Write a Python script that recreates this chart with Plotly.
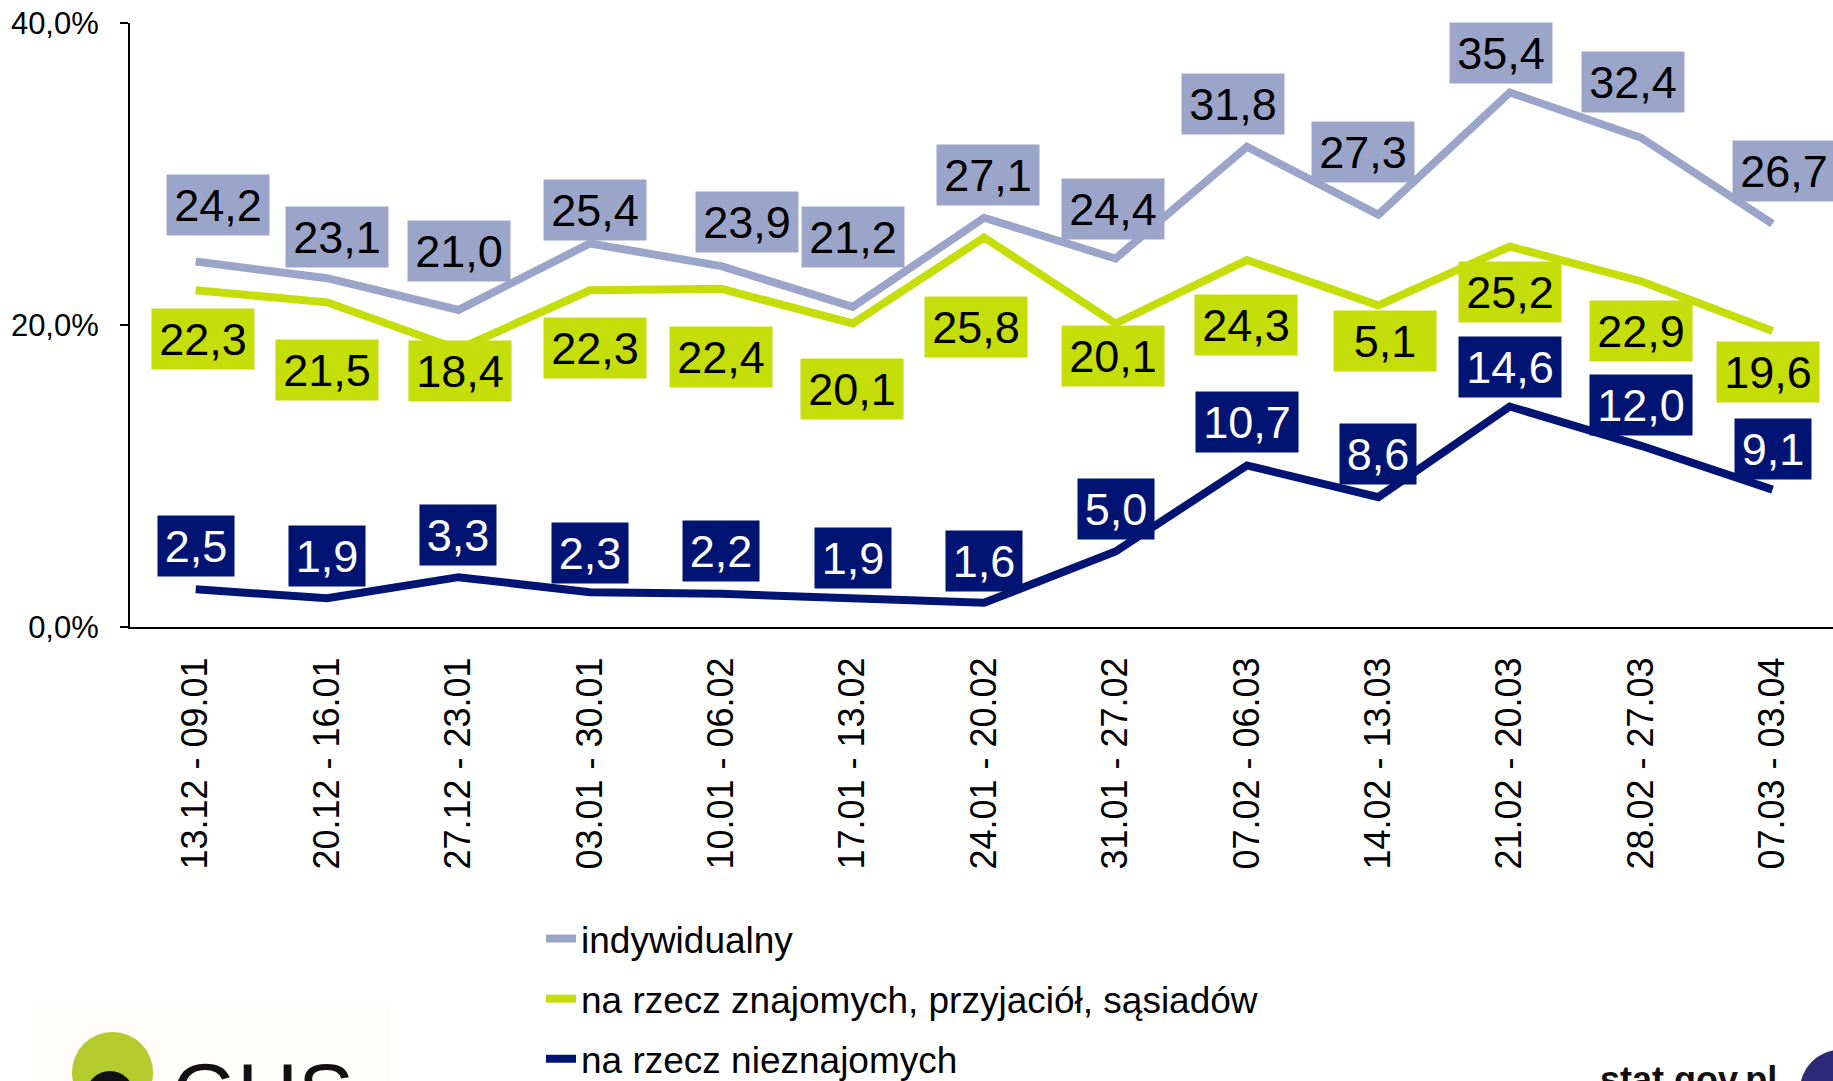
import plotly.graph_objects as go

categories = ["13.12 - 09.01", "20.12 - 16.01", "27.12 - 23.01", "03.01 - 30.01",
              "10.01 - 06.02", "17.01 - 13.02", "24.01 - 20.02", "31.01 - 27.02",
              "07.02 - 06.03", "14.02 - 13.03", "21.02 - 20.03", "28.02 - 27.03",
              "07.03 - 03.04"]

indywidualny = [24.2, 23.1, 21.0, 25.4, 23.9, 21.2, 27.1, 24.4, 31.8, 27.3, 35.4, 32.4, 26.7]
znajomych = [22.3, 21.5, 18.4, 22.3, 22.4, 20.1, 25.8, 20.1, 24.3, 21.3, 25.2, 22.9, 19.6]
nieznajomych = [2.5, 1.9, 3.3, 2.3, 2.2, 1.9, 1.6, 5.0, 10.7, 8.6, 14.6, 12.0, 9.1]

labels_ind = ["24,2", "23,1", "21,0", "25,4", "23,9", "21,2", "27,1", "24,4", "31,8", "27,3", "35,4", "32,4", "26,7"]
labels_zna = ["22,3", "21,5", "18,4", "22,3", "22,4", "20,1", "25,8", "20,1", "24,3", "5,1", "25,2", "22,9", "19,6"]
labels_nie = ["2,5", "1,9", "3,3", "2,3", "2,2", "1,9", "1,6", "5,0", "10,7", "8,6", "14,6", "12,0", "9,1"]

series_names = ["indywidualny", "na rzecz znajomych, przyjaciół, sąsiadów", "na rzecz nieznajomych"]
y_ticks = [0, 20, 40]
y_ticktext = ["0,0%", "20,0%", "40,0%"]

C_IND = "#9BA5C9"
C_ZNA = "#C5DE0A"
C_NIE = "#001473"

# label offsets in pixels (dx right, dy down from the point to label center)
off_ind = [(22, -57), (10, -41), (0, -59), (5, -33), (26, -44), (0, -70), (4, -43),
           (-3, -50), (-14, -43), (-15, -63), (-9, -39), (-8, -56), (11, -53)]
off_zna = [(7, 49), (0, 68), (1, 22), (5, 58), (0, 68), (-1, 66), (-8, 90),
           (-3, 33), (-1, 65), (7, 36), (0, 46), (0, 50), (-5, 41)]
off_nie = [(0, -43), (0, -42), (-1, -42), (0, -39), (0, -43), (0, -40), (0, -42),
           (0, -43), (0, -43), (0, -43), (0, -40), (0, -41), (0, -41)]

FONT = "Liberation Sans, Arial, sans-serif"
W, H = 1833, 1081
L, T, B, R = 130, 23, 454, 0
PW = W - L - R
PH = H - T - B

def xp(px):
    return (px - L) / PW

def yp(py):
    return (H - B - py) / PH

xs = list(range(len(categories)))
fig = go.Figure()
for name, vals, col in [(series_names[0], indywidualny, C_IND),
                        (series_names[1], znajomych, C_ZNA),
                        (series_names[2], nieznajomych, C_NIE)]:
    fig.add_trace(go.Scatter(x=xs, y=vals, mode="lines", name=name, legendgroup=name,
                             line=dict(color=col, width=8), hoverinfo="skip"))

annotations = []
for vals, labs, offs, bg, fc in [(indywidualny, labels_ind, off_ind, C_IND, "black"),
                                 (znajomych, labels_zna, off_zna, C_ZNA, "black"),
                                 (nieznajomych, labels_nie, off_nie, C_NIE, "white")]:
    for i, (v, lab, (dx, dy)) in enumerate(zip(vals, labs, offs)):
        wide = len(lab) >= 4 or bg == C_ZNA
        annotations.append(dict(x=i, y=v, xref="x", yref="y", text=lab, showarrow=False,
                                xshift=dx, yshift=-dy, bgcolor=bg, borderpad=7,
                                width=88 if wide else 62, height=46,
                                font=dict(family=FONT, size=45, color=fc)))

# GUS logo fragments and footer
annotations.append(dict(x=xp(170), y=yp(1044), xref="paper", yref="paper", text="GUS",
                        showarrow=False, xanchor="left", yanchor="top",
                        font=dict(family=FONT, size=84, color="#111111")))
annotations.append(dict(x=xp(1779), y=yp(1057), xref="paper", yref="paper", text="<b>stat.gov.pl</b>",
                        showarrow=False, xanchor="right", yanchor="top",
                        font=dict(family=FONT, size=36, color="#111111")))

shapes = [
    dict(type="rect", xref="paper", yref="paper", x0=xp(32), x1=xp(390), y0=yp(1006), y1=yp(1090),
         fillcolor="#FEFDFA", line=dict(width=0), layer="below"),
    dict(type="circle", xref="paper", yref="paper", x0=xp(72), x1=xp(153), y0=yp(1032), y1=yp(1113),
         fillcolor="#B3CB2D", line=dict(width=0), layer="above"),
    dict(type="circle", xref="paper", yref="paper", x0=xp(86), x1=xp(134), y0=yp(1071), y1=yp(1119),
         fillcolor="#111111", line=dict(width=0), layer="above"),
    dict(type="circle", xref="paper", yref="paper", x0=xp(1800), x1=xp(1880), y0=yp(1050), y1=yp(1130),
         fillcolor="#2E2A7A", line=dict(width=0), layer="above"),
]

fig.update_layout(
    width=W, height=H,
    margin=dict(l=L, r=R, t=T, b=B, autoexpand=False),
    paper_bgcolor="white", plot_bgcolor="white",
    showlegend=True,
    legend=dict(x=xp(541), y=yp(908), xanchor="left", yanchor="top",
                font=dict(family=FONT, size=37, color="black"),
                tracegroupgap=9, bgcolor="rgba(0,0,0,0)", itemwidth=30),
    annotations=annotations,
    shapes=shapes,
    xaxis=dict(range=[-0.5, 12.46], tickvals=xs, ticktext=categories, tickangle=-90,
               showgrid=False, zeroline=False, showline=True, linecolor="black", linewidth=2,
               ticks="", tickfont=dict(family=FONT, size=36, color="black"), ticklabelstandoff=14),
    yaxis=dict(range=[0, 40], tickvals=y_ticks, ticktext=y_ticktext, showgrid=False,
               zeroline=False, showline=True, linecolor="black", linewidth=2,
               ticks="outside", ticklen=8, tickwidth=2, tickcolor="black",
               tickfont=dict(family=FONT, size=31, color="black"), ticklabelstandoff=15),
)

fig.write_html("out.html", config={"displayModeBar": False},
               post_script="document.body.style.margin='0';document.body.style.overflow='hidden';")
